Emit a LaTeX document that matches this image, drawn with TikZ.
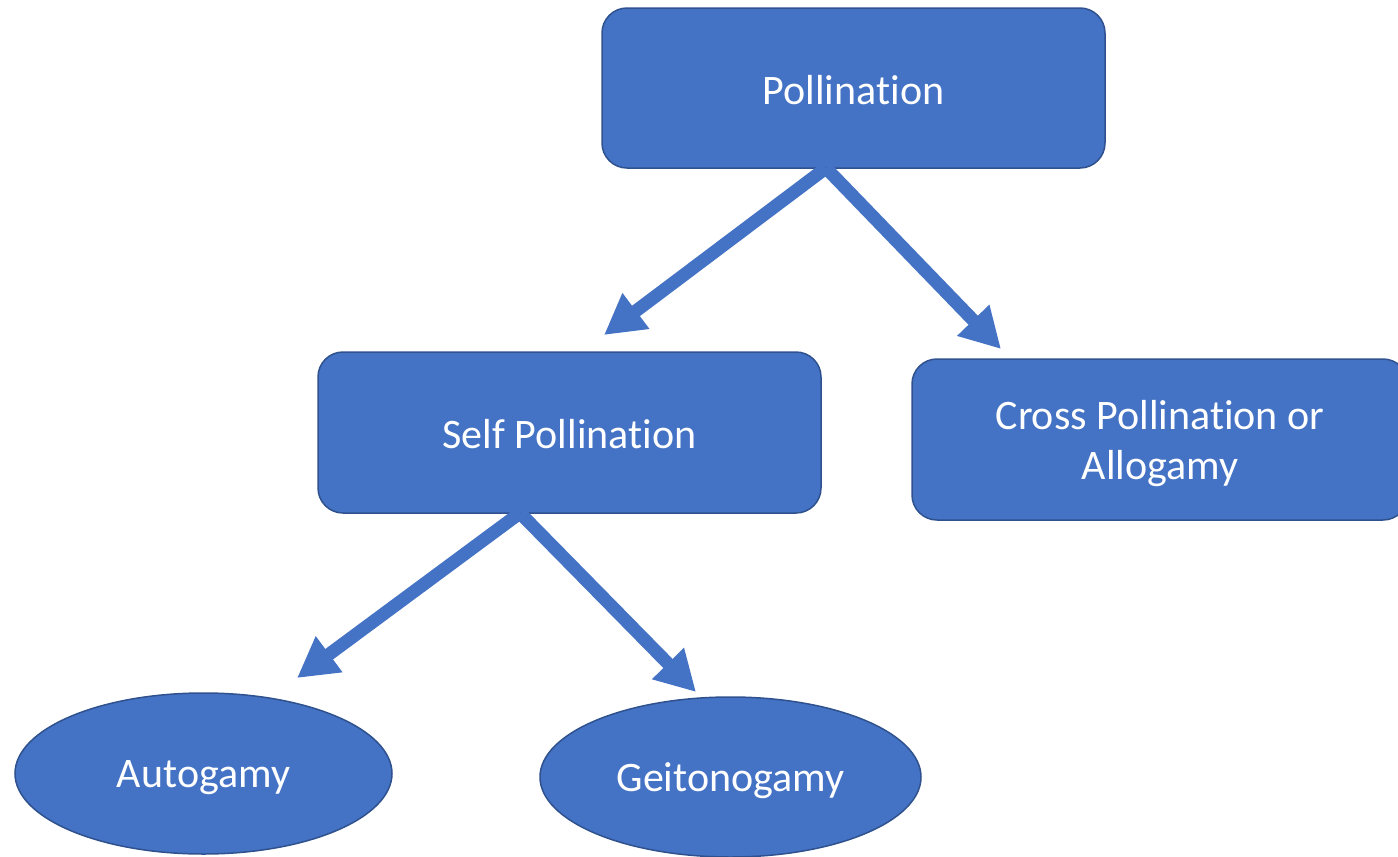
\documentclass[tikz,border=0pt]{standalone}
\usepackage{fontspec}
\setmainfont[Ligatures=NoCommon]{Carlito}
\usetikzlibrary{arrows.meta,shapes.geometric}
\definecolor{fillblue}{HTML}{4472C4}
\definecolor{edgeblue}{HTML}{2F528F}
\newcommand{\lowertext}[2]{\raisebox{-#1pt}[\height][\depth]{#2}}
\begin{document}
\begin{tikzpicture}[x=1pt,y=-1pt,
  box/.style={draw=edgeblue,fill=fillblue,line width=1.5pt,rounded corners=25pt,
    text=white,font=\fontsize{42}{50}\selectfont,align=center,inner sep=0pt},
  oval/.style={ellipse,draw=edgeblue,fill=fillblue,line width=1.5pt,
    text=white,font=\fontsize{42}{50}\selectfont,inner sep=0pt},
  conn/.style={draw=fillblue,line width=13pt,-{Triangle[length=40pt,width=42pt]}}]
\useasboundingbox (0,0) rectangle (1398,857);
\node[box,minimum width=503pt,minimum height=160pt] (pol) at (853.5,88) {\lowertext{2}{Pollination}};
\node[box,minimum width=503pt,minimum height=161pt] (self) at (569.5,432.5) {\lowertext{2}{Self Pollination}};
\node[box,minimum width=496pt,minimum height=161pt] (cross) at (1160,439.5) {\lowertext{5}{\begin{tabular}{@{}c@{}}Cross Pollination or\\Allogamy\end{tabular}}};
\node[oval,minimum width=377pt,minimum height=161pt] (auto) at (203.5,773.5) {\lowertext{4}{Autogamy}};
\node[oval,minimum width=381pt,minimum height=160pt] (geit) at (730.5,777) {\lowertext{4}{Geitonogamy}};
\coordinate (ps) at (826,168);
\coordinate (ss) at (520,513);
\coordinate (t1) at (604,335);
\coordinate (t2) at (1001,349);
\coordinate (t3) at (297,678);
\coordinate (t4) at (696,692);
\draw[conn] (ps) -- (t1);
\draw[conn] (ps) -- (t2);
\draw[conn] (ss) -- (t3);
\draw[conn] (ss) -- (t4);
\end{tikzpicture}
\end{document}
